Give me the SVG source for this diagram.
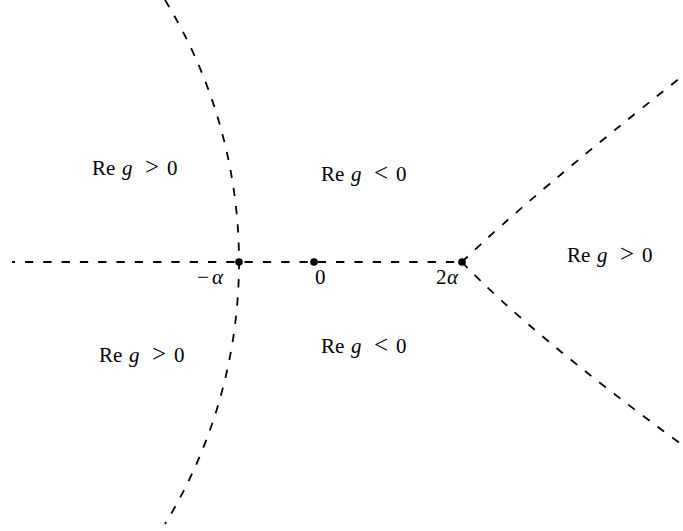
<svg xmlns="http://www.w3.org/2000/svg" width="683" height="531" viewBox="0 0 683 531">
<style>
.c{fill:none;stroke:#000;stroke-width:1.8;stroke-dasharray:8.3 10}
.t{font-family:"Liberation Serif","DejaVu Serif",serif;font-size:21px;fill:#000}
.i{font-style:italic}
.r{font-size:25px}
</style>
<rect width="683" height="531" fill="#fff"/>
<g id="connectors">
<path class="c" d="M12,262 H462" stroke-dashoffset="5.33"/>
<path class="c" d="M165,0 A500.8,500.8 0 0 1 165,524"/>
<path class="c" d="M462,262 Q528,198 685,74"/>
<path class="c" d="M462,262 Q528,332 685,447"/>
</g>
<g id="pt-minus-alpha"><circle cx="239" cy="262" r="3.8"/><text class="t" y="284"><tspan x="197">−</tspan><tspan class="i" x="212">α</tspan></text></g>
<g id="pt-zero"><circle cx="314" cy="262" r="3.8"/><text class="t" x="315" y="284">0</text></g>
<g id="pt-two-alpha"><circle cx="462" cy="262" r="3.8"/><text class="t" y="284"><tspan x="436">2</tspan><tspan class="i" x="447">α</tspan></text></g>
<g id="region-tl"><text class="t" y="175"><tspan x="92">Re</tspan><tspan class="i" x="122">g</tspan><tspan class="r" x="145">&gt;</tspan><tspan x="167">0</tspan></text></g>
<g id="region-tm"><text class="t" y="181"><tspan x="321">Re</tspan><tspan class="i" x="351">g</tspan><tspan class="r" x="374">&lt;</tspan><tspan x="396">0</tspan></text></g>
<g id="region-right"><text class="t" y="262"><tspan x="567">Re</tspan><tspan class="i" x="597">g</tspan><tspan class="r" x="620">&gt;</tspan><tspan x="642">0</tspan></text></g>
<g id="region-bl"><text class="t" y="362"><tspan x="99">Re</tspan><tspan class="i" x="129">g</tspan><tspan class="r" x="152">&gt;</tspan><tspan x="174">0</tspan></text></g>
<g id="region-bm"><text class="t" y="353"><tspan x="321">Re</tspan><tspan class="i" x="351">g</tspan><tspan class="r" x="374">&lt;</tspan><tspan x="396">0</tspan></text></g>
</svg>
